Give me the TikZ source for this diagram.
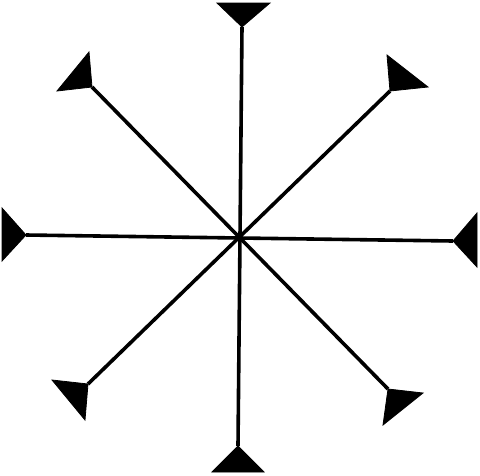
\documentclass[tikz,border=0pt]{standalone}
\begin{document}
\begin{tikzpicture}[x=1pt,y=-1pt,
  spoke/.style={line width=3.6pt,black},
  head/.style={fill=black,draw=black,line width=0.8pt,line join=miter}]
\useasboundingbox (0,0) rectangle (480,475);
\coordinate (c) at (240,237.5);
% apexes
\coordinate (aT) at (242,27);
\coordinate (aB) at (238,446);
\coordinate (aL) at (26,235);
\coordinate (aR) at (453,241);
\coordinate (aUL) at (92,87);
\coordinate (aUR) at (390,91);
\coordinate (aLL) at (88,384);
\coordinate (aLR) at (388,389);
% spokes
\draw[spoke] (aT) -- (aB);
\draw[spoke] (aL) -- (aR);
\draw[spoke] (aUL) -- (aLR);
\draw[spoke] (aUR) -- (aLL);
% heads
\draw[head] (217,3) -- (270,3) -- (aT) -- cycle;
\draw[head] (212,472) -- (264,472) -- (aB) -- cycle;
\draw[head] (2,208) -- (2,261) -- (aL) -- cycle;
\draw[head] (477,213) -- (477,267) -- (aR) -- cycle;
\draw[head] (89,52) -- (57,91) -- (aUL) -- cycle;
\draw[head] (387,55) -- (428,87) -- (aUR) -- cycle;
\draw[head] (52,380) -- (85,420) -- (aLL) -- cycle;
\draw[head] (423,393) -- (383,425) -- (aLR) -- cycle;
\end{tikzpicture}
\end{document}
